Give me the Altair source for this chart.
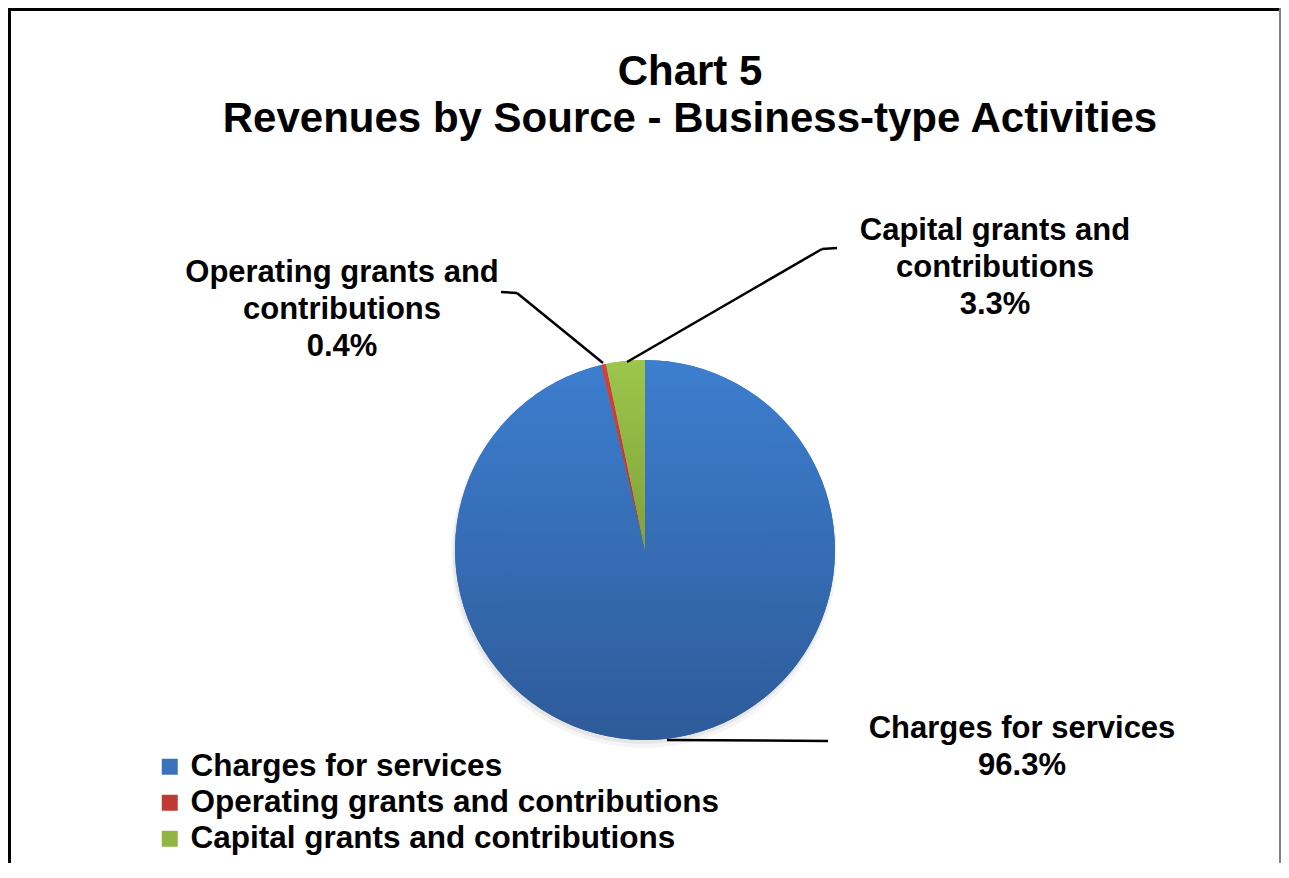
import altair as alt
import pandas as pd

# ---- data ----
categories = ["Charges for services", "Operating grants and contributions", "Capital grants and contributions"]
values = [96.3, 0.4, 3.3]
label_lines = [
    ["Charges for services"],
    ["Operating grants and", "contributions"],
    ["Capital grants and", "contributions"],
]
title_lines = ["Chart 5", "Revenues by Source - Business-type Activities"]

legend_colors = ["#3b72bd", "#c03a35", "#90b545"]
grad_stops = [
    ("#3d7ecf", "#2e5b99"),
    ("#d4433c", "#b52f2c"),
    ("#9dc64b", "#7ea23a"),
]

FONT = "Liberation Sans"
W, H = 1273, 855
CX, CY, R = 637, 542, 190

df = pd.DataFrame({"category": categories, "value": values, "order": list(range(len(values)))})
total = float(sum(values))

theta_scale = alt.Scale(domain=[0, total], range=[0, 6.283185307179586])

base = (
    alt.Chart(df)
    .transform_window(cum="sum(value)", sort=[alt.SortField("order")], frame=[None, 0])
    .transform_calculate(start="datum.cum - datum.value")
)

one = alt.Chart(pd.DataFrame({"a": [0]}))

# soft shadow
shadow1 = one.mark_arc(radius=R + 1, theta=0, theta2=6.2832, fill="#000000", opacity=0.06).encode(
    x=alt.value(CX - 1), y=alt.value(CY + 3)
)
shadow2 = one.mark_arc(radius=R + 3, theta=0, theta2=6.2832, fill="#000000", opacity=0.04).encode(
    x=alt.value(CX - 1), y=alt.value(CY + 5)
)

pie = base.mark_arc(radius=R, strokeWidth=0).encode(
    theta=alt.Theta("start:Q", scale=theta_scale),
    theta2="cum:Q",
    color=alt.Color(
        "category:N",
        scale=alt.Scale(domain=categories, range=legend_colors),
        legend=alt.Legend(
            title=None,
            orient="none",
            legendX=146,
            legendY=743,
            padding=0,
            symbolType="square",
            symbolSize=256,
            symbolStrokeWidth=0,
            symbolOpacity=1,
            labelFont=FONT,
            labelFontSize=31.5,
            labelFontWeight="bold",
            labelColor="#000000",
            labelOffset=5,
            labelLimit=1000,
            rowPadding=3,
        ),
    ),
    x=alt.value(CX),
    y=alt.value(CY),
)

grad_layers = []
for cat, (c1, c2) in zip(categories, grad_stops):
    grad = alt.LinearGradient(
        gradient="linear",
        x1=0, y1=0, x2=0, y2=1,
        stops=[alt.GradientStop(color=c1, offset=0), alt.GradientStop(color=c2, offset=1)],
    )
    grad_layers.append(
        base.transform_filter(alt.datum.category == cat)
        .mark_arc(radius=R, fill=grad, strokeWidth=0)
        .encode(
            theta=alt.Theta("start:Q", scale=theta_scale),
            theta2="cum:Q",
            x=alt.value(CX),
            y=alt.value(CY),
        )
    )


def pct(v):
    return f"{v:.1f}%"


def label(lines, v, x, y):
    return one.mark_text(
        font=FONT, fontSize=31, fontWeight="bold", align="center", baseline="alphabetic",
        lineHeight=37, color="#000000",
    ).encode(text=alt.value(lines + [pct(v)]), x=alt.value(x), y=alt.value(y))


lab_charges = label(label_lines[0], values[0], 1014, 730)
lab_oper = label(label_lines[1], values[1], 334, 274)
lab_cap = label(label_lines[2], values[2], 987, 232)

title = one.mark_text(
    font=FONT, fontSize=42, fontWeight="bold", align="center", baseline="alphabetic",
    lineHeight=47, color="#000000",
).encode(text=alt.value(title_lines), x=alt.value(682), y=alt.value(77))


def seg(x1, y1, x2, y2, color="#000000", w=2.5):
    return one.mark_rule(color=color, strokeWidth=w).encode(
        x=alt.value(x1), y=alt.value(y1), x2=alt.value(x2), y2=alt.value(y2)
    )


leaders = [
    seg(619, 354, 814, 241),
    seg(814, 241, 829, 240),
    seg(493, 284, 509, 285),
    seg(509, 285, 595, 355),
    seg(659, 732, 820, 733),
]

frame = [
    seg(0, 1.5, W, 1.5, w=3),
    seg(1.5, 0, 1.5, H, w=3),
    seg(W - 1, 0, W - 1, H, color="#808080", w=2),
]

chart = (
    alt.layer(shadow1, shadow2, pie, *grad_layers, *leaders, lab_charges, lab_oper, lab_cap, title, *frame)
    .properties(width=W, height=H, padding=0, autosize=alt.AutoSizeParams(type="none"), background="#ffffff")
    .configure_view(stroke=None)
)

chart.save("out.html", embed_options={"renderer": "svg", "actions": False})
